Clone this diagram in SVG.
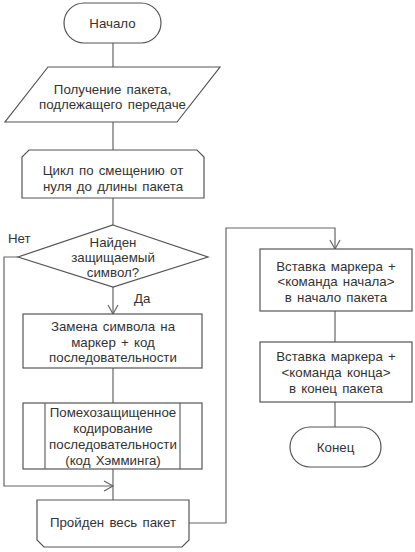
<svg xmlns="http://www.w3.org/2000/svg" width="415" height="552" viewBox="0 0 415 552">
<defs>
<style>
.s{fill:#fff;stroke:#555;stroke-width:1.2}
.c{fill:none;stroke:#666;stroke-width:1.2}
text{font-family:"Liberation Sans",Arial,sans-serif;font-size:13.3px;fill:#333;text-anchor:middle;word-spacing:1.5px}
.l{text-anchor:start}
</style>
<marker id="a" markerWidth="12" markerHeight="12" refX="10" refY="6" orient="auto" markerUnits="userSpaceOnUse">
<path d="M1,1 L10,6 L1,11" fill="none" stroke="#666" stroke-width="1.2"/>
</marker>
</defs>
<rect width="415" height="552" fill="#fff"/>
<g id="connectors">
<path class="c" d="M113,43 V67"/>
<path class="c" d="M113,122 V150"/>
<path class="c" d="M113,198 V225"/>
<path class="c" d="M113,287 V314" marker-end="url(#a)"/>
<path class="c" d="M113,368 V403"/>
<path class="c" d="M18,257 H4 V486 H113" marker-end="url(#a)"/>
<path class="c" d="M113,469 V500"/>
<path class="c" d="M189,523 H226 V228 H335 V249" marker-end="url(#a)"/>
<path class="c" d="M335,311 V342"/>
<path class="c" d="M335,402 V427"/>
<text class="l" x="8" y="243">Нет</text>
<text class="l" x="134" y="303">Да</text>
</g>
<g id="start">
<rect class="s" x="64" y="3" width="97" height="40" rx="20"/>
<text x="112.5" y="28">Начало</text>
</g>
<g id="input">
<path class="s" d="M48,67 H220 L177,122 H5 Z"/>
<text x="112.5" y="94">Получение пакета,</text>
<text x="112.5" y="109">подлежащего передаче</text>
</g>
<g id="loop">
<path class="s" d="M29,150 H197 L204,157 V198 H22 V157 Z"/>
<text x="113" y="175">Цикл по смещению от</text>
<text x="113" y="191">нуля до длины пакета</text>
</g>
<g id="decision">
<path class="s" d="M113,225 L208,257 L113,287 L18,257 Z"/>
<text x="113" y="247">Найден</text>
<text x="113" y="262">защищаемый</text>
<text x="113" y="277">символ?</text>
</g>
<g id="replace">
<rect class="s" x="23" y="314" width="179" height="54"/>
<text x="113" y="331">Замена символа на</text>
<text x="113" y="347">маркер + код</text>
<text x="113" y="362">последовательности</text>
</g>
<g id="hamming">
<rect class="s" x="23" y="403" width="179" height="66"/>
<path class="c" d="M45,403 V469 M180,403 V469"/>
<text x="113" y="417">Помехозащищенное</text>
<text x="113" y="433">кодирование</text>
<text x="113" y="449">последовательности</text>
<text x="113" y="465">(код Хэмминга)</text>
</g>
<g id="loopend">
<path class="s" d="M37,500 H189 V540 L182,547 H44 L37,540 Z"/>
<text x="113" y="527">Пройден весь пакет</text>
</g>
<g id="insertstart">
<rect class="s" x="260" y="249" width="152" height="62"/>
<text x="336" y="271">Вставка маркера +</text>
<text x="336" y="286">&lt;команда начала&gt;</text>
<text x="336" y="302">в начало пакета</text>
</g>
<g id="insertend">
<rect class="s" x="260" y="342" width="152" height="60"/>
<text x="336" y="361">Вставка маркера +</text>
<text x="336" y="377">&lt;команда конца&gt;</text>
<text x="336" y="393">в конец пакета</text>
</g>
<g id="end">
<rect class="s" x="290" y="427" width="91" height="40" rx="20"/>
<text x="335.5" y="452">Конец</text>
</g>
</svg>
